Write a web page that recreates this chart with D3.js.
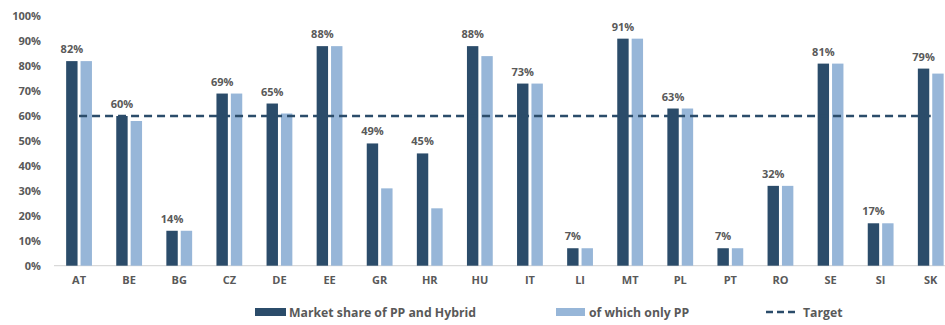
<!DOCTYPE html>
<html>
<head>
<meta charset="utf-8">
<script src="https://cdn.jsdelivr.net/npm/d3@7"></script>
<style>
html,body{margin:0;padding:0;background:#fff;overflow:hidden;}
svg{display:block;font-family:"Open Sans",sans-serif;font-weight:700;}
</style>
</head>
<body>
<svg id="chart" width="945" height="325"></svg>
<script>
const categories = ["AT","BE","BG","CZ","DE","EE","GR","HR","HU","IT","LI","MT","PL","PT","RO","SE","SI","SK"];
const marketShare = [82,60,14,69,65,88,49,45,88,73,7,91,63,7,32,81,17,79];
const onlyPP      = [82,58,14,69,61,88,31,23,84,73,7,91,63,7,32,81,17,77];
const targetValue = 60;
const yTicks = [0,10,20,30,40,50,60,70,80,90,100];
const seriesNames = ["Market share of PP and Hybrid","of which only PP","Target"];

const dark = "#2B4C6A", light = "#97B6D8", textCol = "#595959";
const labelFont = "11px", legendFont = "12.25px";
const svg = d3.select("#chart");

const x = d3.scaleBand().domain(categories).range([54, 54 + 18*50.1]).padding(0);
const y = d3.scaleLinear().domain([0,100]).range([265.7, 16.2]);
const barW = 11.4, gap = 1.5;

// axis baseline
svg.append("line").attr("x1",54).attr("x2",945).attr("y1",y(0)).attr("y2",y(0))
  .attr("stroke","#D9D9D9").attr("stroke-width",1.2);

// y axis labels
const yAxis = d3.axisLeft(y).tickValues(yTicks).tickFormat(d=>d+"%").tickSize(0).tickPadding(0);
const ya = svg.append("g").attr("transform","translate(41,0)").call(yAxis);
ya.select(".domain").remove();
ya.selectAll("text").attr("fill",textCol).style("font-size",labelFont).style("font-family","'Open Sans',sans-serif").style("font-weight","700");

// x axis labels
const xAxis = d3.axisBottom(x).tickSize(0).tickPadding(0);
const xa = svg.append("g").attr("transform","translate(0,276)").call(xAxis);
xa.select(".domain").remove();
xa.selectAll("text").attr("fill",textCol).style("font-size",labelFont).style("font-family","'Open Sans',sans-serif").style("font-weight","700");

const cx = d => x(d) + x.bandwidth()/2;

// bars
svg.append("g").selectAll("rect").data(categories).join("rect")
  .attr("x", d => cx(d) - gap - barW)
  .attr("y", (d,i) => y(marketShare[i]))
  .attr("width", barW)
  .attr("height", (d,i) => y(0) - y(marketShare[i]))
  .attr("fill", dark);
svg.append("g").selectAll("rect").data(categories).join("rect")
  .attr("x", d => cx(d) + gap)
  .attr("y", (d,i) => y(onlyPP[i]))
  .attr("width", barW)
  .attr("height", (d,i) => y(0) - y(onlyPP[i]))
  .attr("fill", light);

// target line
svg.append("line")
  .attr("x1", cx(categories[0])).attr("x2", cx(categories[categories.length-1]))
  .attr("y1", y(targetValue)).attr("y2", y(targetValue))
  .attr("stroke", dark).attr("stroke-width", 2.5).attr("stroke-dasharray","8,5");

// value labels
svg.append("g").selectAll("text").data(categories).join("text")
  .attr("x", d => cx(d) - gap - barW/2)
  .attr("y", (d,i) => y(marketShare[i]) - 8)
  .attr("text-anchor","middle")
  .attr("fill", textCol)
  .style("font-size",labelFont)
  .text((d,i) => marketShare[i] + "%");

// legend
const lg = svg.append("g");
lg.append("rect").attr("x",255).attr("y",308).attr("width",31).attr("height",8).attr("fill",dark);
lg.append("text").attr("x",289).attr("y",316.5).attr("fill",textCol).style("font-size",legendFont).text(seriesNames[0]);
lg.append("rect").attr("x",556).attr("y",308).attr("width",29).attr("height",8).attr("fill",light);
lg.append("text").attr("x",589).attr("y",316.5).attr("fill",textCol).style("font-size",legendFont).text(seriesNames[1]);
lg.append("line").attr("x1",766).attr("x2",797).attr("y1",312).attr("y2",312)
  .attr("stroke",dark).attr("stroke-width",2.5).attr("stroke-dasharray","7,4");
lg.append("text").attr("x",803).attr("y",316.5).attr("fill",textCol).style("font-size",legendFont).text(seriesNames[2]);
</script>
</body>
</html>
